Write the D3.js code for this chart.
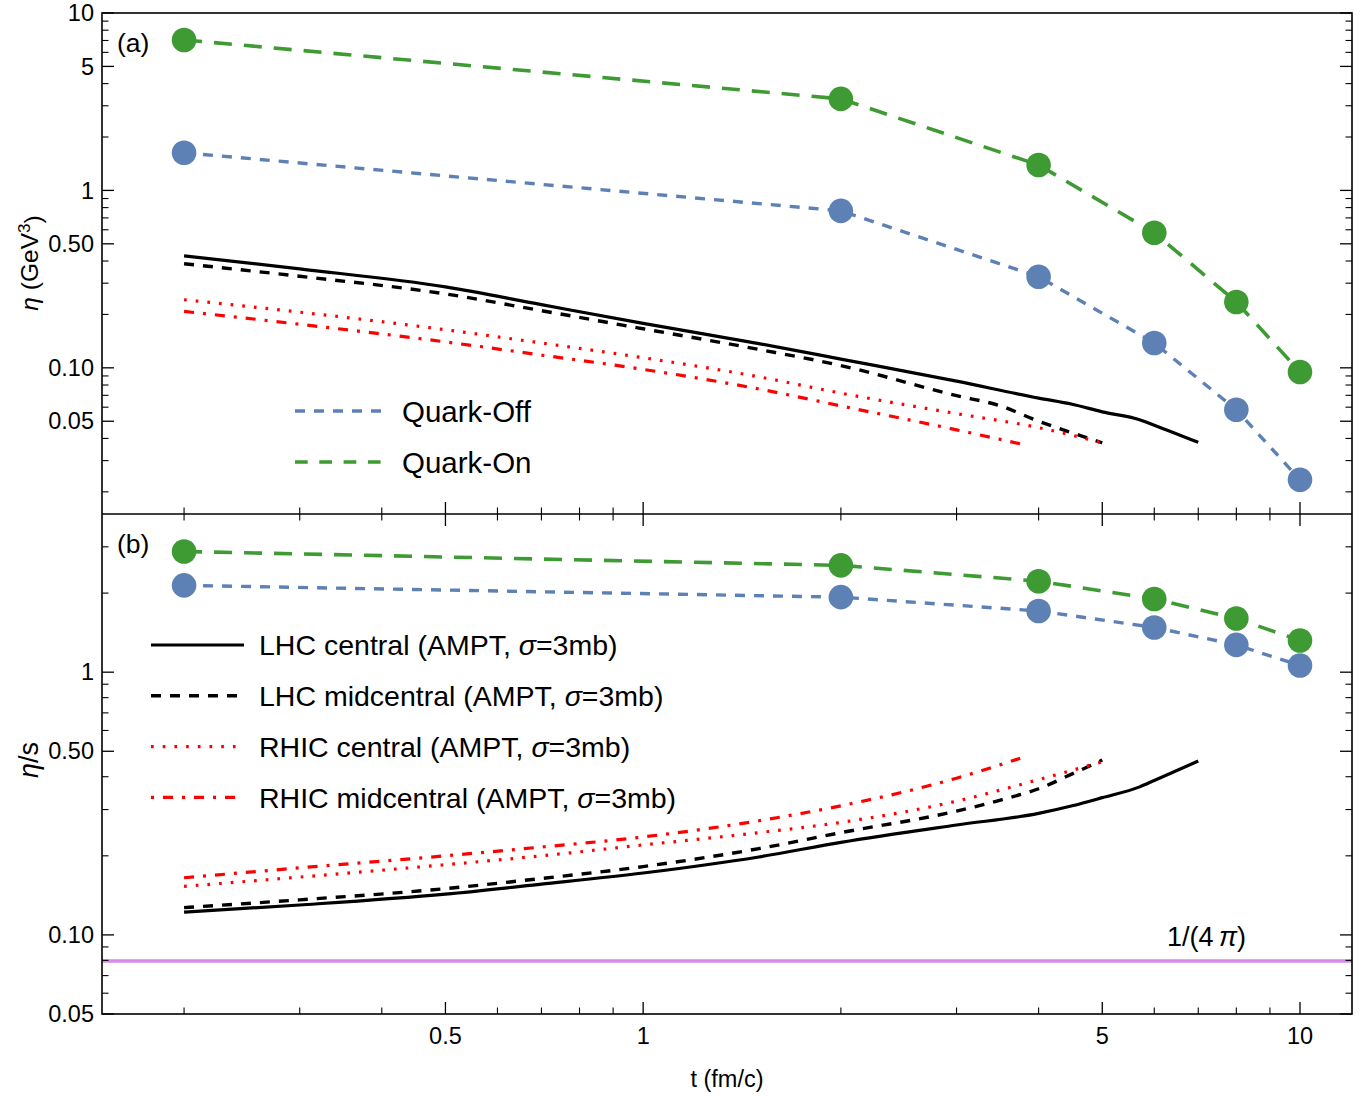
<!DOCTYPE html>
<html><head><meta charset="utf-8">
<script src="https://cdn.jsdelivr.net/npm/d3@7"></script>
<style>
body{margin:0;background:#fff}
svg{display:block}
text{font-family:"Liberation Sans", Arial, sans-serif; fill:#000}
</style>
</head><body>
<svg id="c" width="1362" height="1096"></svg>
<script>
// ---------------- data ----------------
const quarkT = [0.2, 2, 4, 6, 8, 10];
const etaQuarkOff = [1.63, 0.767, 0.326, 0.138, 0.058, 0.0234];
const etaQuarkOn  = [7.05, 3.28, 1.39, 0.577, 0.235, 0.0948];
const etasQuarkOff = [2.14, 1.93, 1.71, 1.48, 1.27, 1.06];
const etasQuarkOn  = [2.88, 2.55, 2.22, 1.90, 1.60, 1.32];

const tLhcCentral = [0.2, 0.3, 0.5, 0.7, 1, 1.5, 2, 3, 4, 4.5, 5, 5.7, 6, 7];
const etaLhcCentral  = [0.428, 0.361, 0.286, 0.227, 0.178, 0.137, 0.112, 0.0841, 0.0675, 0.0623, 0.0565, 0.051, 0.0475, 0.038];
const etasLhcCentral = [0.122, 0.130, 0.143, 0.156, 0.172, 0.198, 0.225, 0.262, 0.290, 0.310, 0.333, 0.366, 0.387, 0.459];

const tLhcMid = [0.2, 0.3, 0.5, 0.7, 1, 1.5, 2, 3, 3.5, 4, 4.5, 5];
const etaLhcMid  = [0.386, 0.328, 0.261, 0.210, 0.166, 0.127, 0.103, 0.0697, 0.061, 0.050, 0.043, 0.0378];
const etasLhcMid = [0.127, 0.136, 0.150, 0.164, 0.182, 0.213, 0.245, 0.296, 0.326, 0.360, 0.41, 0.463];

const tRhicCentral = [0.2, 0.3, 0.5, 0.7, 1, 1.5, 2, 3, 4, 5];
const etaRhicCentral  = [0.242, 0.206, 0.164, 0.138, 0.114, 0.089, 0.072, 0.0552, 0.046, 0.0378];
const etasRhicCentral = [0.153, 0.166, 0.185, 0.200, 0.220, 0.245, 0.268, 0.323, 0.39, 0.456];

const tRhicMid = [0.2, 0.3, 0.5, 0.7, 1, 1.5, 2, 3, 3.75];
const etaRhicMid  = [0.208, 0.176, 0.140, 0.118, 0.098, 0.076, 0.061, 0.0447, 0.0373];
const etasRhicMid = [0.165, 0.180, 0.200, 0.216, 0.236, 0.272, 0.31, 0.395, 0.47];

const kssBound = 1 / (4 * Math.PI);

const xMajor = [0.5, 1, 5, 10];
const xMajorLabels = ["0.5", "1", "5", "10"];
const xMinor = [0.2, 0.3, 0.4, 0.6, 0.7, 0.8, 0.9, 2, 3, 4, 6, 7, 8, 9];

const yMajorA = [0.05, 0.1, 0.5, 1, 5, 10];
const yMajorALabels = ["0.05", "0.10", "0.50", "1", "5", "10"];
const yMinorA = [0.02, 0.03, 0.04, 0.06, 0.07, 0.08, 0.09, 0.2, 0.3, 0.4, 0.6, 0.7, 0.8, 0.9, 2, 3, 4, 6, 7, 8, 9];
const yMajorB = [0.05, 0.1, 0.5, 1];
const yMajorBLabels = ["0.05", "0.10", "0.50", "1"];
const yMinorB = [0.06, 0.07, 0.08, 0.09, 0.2, 0.3, 0.4, 0.6, 0.7, 0.8, 0.9, 2, 3];

// ---------------- layout ----------------
const L = 102, R = 1352, TA = 13, MID = 514, BB = 1014;
const BLUE = "#5e81b5", GREEN = "#3e9a33", PURPLE = "#d68ae8", RED = "#ff0000";

const svg = d3.select("#c");
const x = d3.scaleLog().domain([0.15, 12]).range([L, R]);
const yA = d3.scaleLog().domain([0.015, 10]).range([MID, TA]);
const yB = d3.scaleLog().domain([0.05, 4]).range([BB, MID]);

svg.append("defs").html(
  `<clipPath id="clipA"><rect x="${L}" y="${TA}" width="${R-L}" height="${MID-TA}"/></clipPath>
   <clipPath id="clipB"><rect x="${L}" y="${MID}" width="${R-L}" height="${BB-MID}"/></clipPath>`);

const styles = {
  lhcC: {stroke: "#000", dash: null, w: 3.2},
  lhcM: {stroke: "#000", dash: "10,9", w: 3.4},
  rhicC: {stroke: RED, dash: "2.7,9", w: 3.2},
  rhicM: {stroke: RED, dash: "10,9,3,9", w: 3.2},
  qOff: {stroke: BLUE, dash: "10,9", w: 3.4},
  qOn: {stroke: GREEN, dash: "18,12", w: 3.6}
};

function drawPanel(y, clip, series, quark) {
  const g = svg.append("g").attr("clip-path", `url(#${clip})`);
  series.forEach(s => {
    const pts = s.t.map((t, i) => ({t, v: s.v[i]}));
    const st = styles[s.key];
    g.append("path").datum(pts)
      .attr("d", d3.line().x(d => x(d.t)).y(d => y(d.v)).curve(d3.curveMonotoneX))
      .attr("fill", "none").attr("stroke", st.stroke).attr("stroke-width", st.w)
      .attr("stroke-dasharray", st.dash);
  });
  quark.forEach(s => {
    const pts = quarkT.map((t, i) => ({t, v: s.v[i]}));
    const st = styles[s.key];
    g.append("path").datum(pts)
      .attr("d", d3.line().x(d => x(d.t)).y(d => y(d.v)))
      .attr("fill", "none").attr("stroke", st.stroke).attr("stroke-width", st.w)
      .attr("stroke-dasharray", st.dash);
  });
  quark.forEach(s => {
    const pts = quarkT.map((t, i) => ({t, v: s.v[i]}));
    g.selectAll(null).data(pts).enter().append("circle")
      .attr("cx", d => x(d.t)).attr("cy", d => y(d.v)).attr("r", 12.3)
      .attr("fill", styles[s.key].stroke);
  });
}

// 1/(4pi) line
svg.append("line").attr("x1", L).attr("x2", R).attr("y1", yB(kssBound)).attr("y2", yB(kssBound))
  .attr("stroke", PURPLE).attr("stroke-width", 3.5);

drawPanel(yA, "clipA", [
  {key: "lhcC", t: tLhcCentral, v: etaLhcCentral},
  {key: "lhcM", t: tLhcMid, v: etaLhcMid},
  {key: "rhicC", t: tRhicCentral, v: etaRhicCentral},
  {key: "rhicM", t: tRhicMid, v: etaRhicMid}
], [
  {key: "qOff", v: etaQuarkOff},
  {key: "qOn", v: etaQuarkOn}
]);
drawPanel(yB, "clipB", [
  {key: "lhcC", t: tLhcCentral, v: etasLhcCentral},
  {key: "lhcM", t: tLhcMid, v: etasLhcMid},
  {key: "rhicC", t: tRhicCentral, v: etasRhicCentral},
  {key: "rhicM", t: tRhicMid, v: etasRhicMid}
], [
  {key: "qOff", v: etasQuarkOff},
  {key: "qOn", v: etasQuarkOn}
]);

// ---------------- frames & ticks ----------------
const MAJ = 12, MIN = 6.5;
const axG = svg.append("g").attr("stroke", "#000");
function hTicks(yPos, dir) {
  xMajor.forEach(t => axG.append("line").attr("x1", x(t)).attr("x2", x(t)).attr("y1", yPos).attr("y2", yPos + dir*MAJ).attr("stroke-width", 1.3));
  xMinor.forEach(t => axG.append("line").attr("x1", x(t)).attr("x2", x(t)).attr("y1", yPos).attr("y2", yPos + dir*MIN).attr("stroke-width", 1.1));
}
function vTicks(y, maj, min, xPos, dir) {
  maj.forEach(v => axG.append("line").attr("y1", y(v)).attr("y2", y(v)).attr("x1", xPos).attr("x2", xPos + dir*MAJ).attr("stroke-width", 1.3));
  min.forEach(v => axG.append("line").attr("y1", y(v)).attr("y2", y(v)).attr("x1", xPos).attr("x2", xPos + dir*MIN).attr("stroke-width", 1.1));
}
hTicks(MID, -1);
hTicks(MID, 1);
hTicks(BB, -1);
vTicks(yA, yMajorA, yMinorA, L, 1);
vTicks(yA, yMajorA, yMinorA, R, -1);
vTicks(yB, yMajorB, yMinorB, L, 1);
vTicks(yB, yMajorB, yMinorB, R, -1);
axG.append("rect").attr("x", L).attr("y", TA).attr("width", R-L).attr("height", BB-TA).attr("fill", "none").attr("stroke-width", 1.6);
axG.append("line").attr("x1", L).attr("x2", R).attr("y1", MID).attr("y2", MID).attr("stroke-width", 1.6);

// tick labels
const FS = 23.5;
yMajorA.forEach((v, i) => svg.append("text").attr("x", L - 8).attr("y", yA(v)).attr("dy", "0.35em")
  .attr("text-anchor", "end").attr("font-size", FS).text(yMajorALabels[i]));
yMajorB.forEach((v, i) => svg.append("text").attr("x", L - 8).attr("y", yB(v)).attr("dy", "0.35em")
  .attr("text-anchor", "end").attr("font-size", FS).text(yMajorBLabels[i]));
xMajor.forEach((t, i) => svg.append("text").attr("x", x(t)).attr("y", BB + 30)
  .attr("text-anchor", "middle").attr("font-size", FS).text(xMajorLabels[i]));

// axis titles
svg.append("text").attr("x", 727).attr("y", 1087).attr("text-anchor", "middle").attr("font-size", 23.5).text("t (fm/c)");
const ytA = svg.append("text").attr("transform", "translate(38,263) rotate(-90)").attr("text-anchor", "middle").attr("font-size", 24.5);
ytA.append("tspan").attr("font-style", "italic").text("η");
ytA.append("tspan").text(" (GeV");
ytA.append("tspan").attr("dy", "-0.45em").attr("font-size", 17).text("3");
ytA.append("tspan").attr("dy", "0.45em").text(")");
const ytB = svg.append("text").attr("transform", "translate(38,760) rotate(-90)").attr("text-anchor", "middle").attr("font-size", 27);
ytB.append("tspan").attr("font-style", "italic").text("η");
ytB.append("tspan").text("/s");

// panel labels
svg.append("text").attr("x", 117).attr("y", 52).attr("font-size", 26.5).text("(a)");
svg.append("text").attr("x", 117).attr("y", 553).attr("font-size", 26.5).text("(b)");

// 1/(4π)
const kt = svg.append("text").attr("x", 1167).attr("y", 946).attr("font-size", 27);
kt.append("tspan").text("1/(4\u2009");
kt.append("tspan").attr("font-style", "italic").text("π");
kt.append("tspan").text(")");

// ---------------- legends ----------------
const legendA = [
  {key: "qOff", label: "Quark-Off"},
  {key: "qOn", label: "Quark-On"}
];
legendA.forEach((d, i) => {
  const yy = 411 + i * 51, st = styles[d.key];
  svg.append("line").attr("x1", 295).attr("x2", 382).attr("y1", yy).attr("y2", yy)
    .attr("stroke", st.stroke).attr("stroke-width", st.w).attr("stroke-dasharray", d.key === "qOn" ? "12.7,11.6" : "10,9");
  svg.append("text").attr("x", 402).attr("y", yy).attr("dy", "0.36em").attr("font-size", 29.5).text(d.label);
});
const legendB = [
  {key: "lhcC", label: "LHC central (AMPT, "},
  {key: "lhcM", label: "LHC midcentral (AMPT, "},
  {key: "rhicC", label: "RHIC central (AMPT, "},
  {key: "rhicM", label: "RHIC midcentral (AMPT, "}
];
legendB.forEach((d, i) => {
  const yy = 645 + i * 50.8, st = styles[d.key];
  svg.append("line").attr("x1", 151).attr("x2", 244).attr("y1", yy).attr("y2", yy)
    .attr("stroke", st.stroke).attr("stroke-width", st.w).attr("stroke-dasharray", d.key === "rhicM" ? "3,9,10,9" : st.dash);
  const tx = svg.append("text").attr("x", 259).attr("y", yy).attr("dy", "0.36em").attr("font-size", 28.5);
  tx.append("tspan").text(d.label);
  tx.append("tspan").attr("font-style", "italic").text("σ");
  tx.append("tspan").text("=3mb)");
});
</script>
</body></html>
